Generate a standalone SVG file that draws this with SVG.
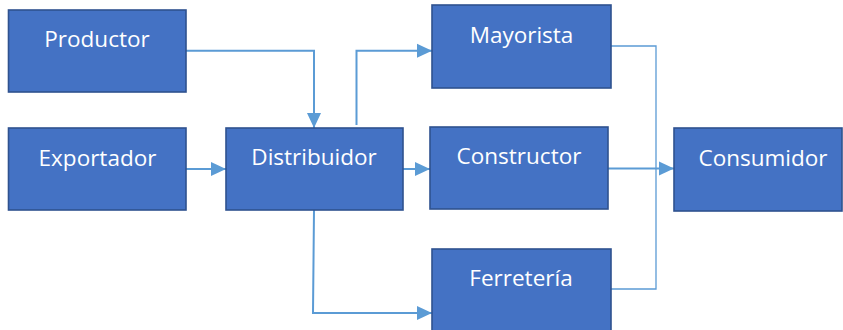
<svg xmlns="http://www.w3.org/2000/svg" width="843" height="330" viewBox="0 0 843 330">
  <style>
    .box { fill: #4472C4; stroke: #2F528F; stroke-width: 1.6; }
    .lbl { fill: #FFFFFF; font-family: "Open Sans", "Liberation Sans", sans-serif; font-size: 22.5px; text-anchor: middle; }
    .wire { fill: none; stroke: #5B9BD5; stroke-width: 2; }
    .thin { fill: none; stroke: #5B9BD5; stroke-width: 1.3; }
  </style>
  <defs>
    <marker id="arrow" markerUnits="userSpaceOnUse" markerWidth="16" markerHeight="16" viewBox="0 0 16 16" refX="15" refY="8" orient="auto">
      <path d="M0,1 L15,8 L0,15 Z" fill="#5B9BD5"/>
    </marker>
  </defs>
  <rect width="843" height="330" fill="#FFFFFF"/>

  <g id="connectors">
    <path class="wire" d="M186,50.7 H314 V128" marker-end="url(#arrow)"/>
    <path class="wire" d="M186,169 H226" marker-end="url(#arrow)"/>
    <path class="wire" d="M403,169 H430" marker-end="url(#arrow)"/>
    <path class="wire" d="M356.5,125 V50.7 H432" marker-end="url(#arrow)"/>
    <path class="wire" d="M314,210 L313,313 H432" marker-end="url(#arrow)"/>
    <path class="thin" d="M611,46 H656 V289 H611"/>
    <path class="wire" d="M608,168.5 H674" marker-end="url(#arrow)"/>
  </g>

  <g id="productor">
    <rect class="box" x="8.5" y="10" width="177.5" height="82"/>
    <text class="lbl" x="97" y="46.5">Productor</text>
  </g>
  <g id="exportador">
    <rect class="box" x="8.5" y="128" width="177.5" height="82"/>
    <text class="lbl" x="97.5" y="165.5">Exportador</text>
  </g>
  <g id="distribuidor">
    <rect class="box" x="226" y="128" width="177" height="82"/>
    <text class="lbl" x="314" y="165">Distribuidor</text>
  </g>
  <g id="mayorista">
    <rect class="box" x="432" y="5" width="179" height="83"/>
    <text class="lbl" x="521.5" y="42.5">Mayorista</text>
  </g>
  <g id="constructor">
    <rect class="box" x="430" y="127" width="178" height="82"/>
    <text class="lbl" x="519" y="164">Constructor</text>
  </g>
  <g id="consumidor">
    <rect class="box" x="674" y="128" width="168" height="83"/>
    <text class="lbl" x="763" y="166">Consumidor</text>
  </g>
  <g id="ferreteria">
    <rect class="box" x="432" y="249" width="179" height="86"/>
    <text class="lbl" x="521" y="286">Ferretería</text>
  </g>
</svg>
